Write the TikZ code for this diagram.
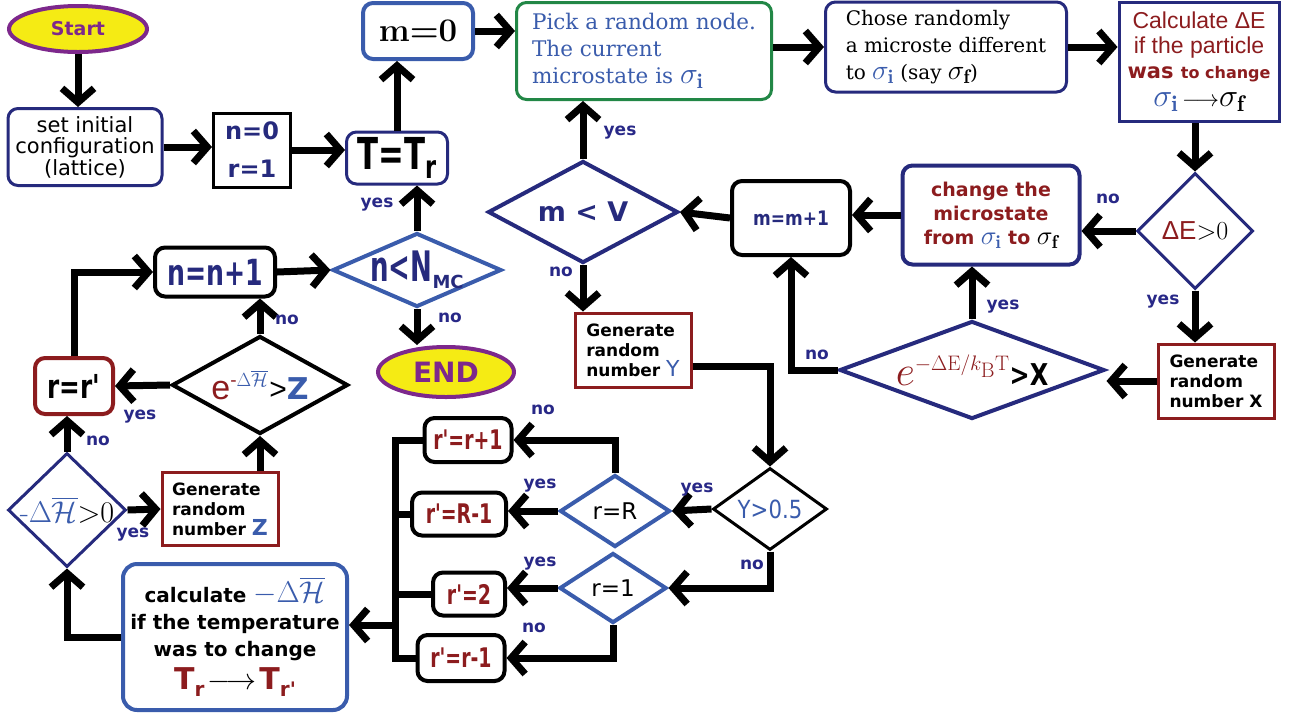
\RequirePackage{fix-cm}
\documentclass[tikz,border=0pt]{standalone}
\usepackage{fontspec}
\usepackage{amsmath}
\usepackage{xcolor}
\usepackage{graphicx}
\usetikzlibrary{arrows.meta}
\usetikzlibrary{shapes.geometric}

\newfontfamily\dejavu{DejaVu Sans}
\newfontfamily\djserif{DejaVu Serif}
\newfontfamily\libsans{Liberation Sans}

\definecolor{navy}{RGB}{38,42,125}
\definecolor{midblue}{RGB}{58,92,172}
\definecolor{leafgreen}{RGB}{34,135,70}
\definecolor{darkred}{RGB}{140,28,30}
\definecolor{startpurple}{RGB}{125,40,140}
\definecolor{startyellow}{RGB}{245,235,20}
\definecolor{labelblue}{RGB}{40,40,135}

\newcommand{\fsz}[2]{\fontsize{#1}{#2}\selectfont}
\newcommand{\zw}[1]{\makebox[0pt]{#1}}
\newcommand{\sig}[1]{\scalebox{1.4}{$\sigma_{\mathbf{#1}}$}}

\tikzset{
    thickarrow/.style={-{Straight Barb[length=14pt,width=32pt]}, line width=7pt},
    procbox/.style={draw, line width=3pt, rounded corners=10pt, inner sep=0pt},
    sqbox/.style={draw, line width=3pt, inner sep=0pt},
    decision/.style={diamond, draw, line width=3.5pt, inner sep=0pt},
    terminal/.style={ellipse, draw=startpurple, fill=startyellow, line width=4pt, inner sep=0pt, text=startpurple},
    lbl/.style={text=labelblue, font=\dejavu\bfseries\fsz{17}{17}, inner sep=1pt}
}

\begin{document}
\begin{tikzpicture}[x=1pt,y=-1pt]
        \useasboundingbox (0,0) rectangle (1300,713);

        \node[terminal, minimum width=138, minimum height=46] (start) at (78,29) {\dejavu\bfseries\fsz{19}{19}Start};
        \node[procbox, draw=navy, minimum width=154, minimum height=77, align=center, font=\dejavu\fsz{21}{21.5}] (init) at (85,147) {set initial\\configuration\\(lattice)};
        \node[sqbox, draw=black, minimum width=77, minimum height=74, align=center, text=navy, font=\dejavu\bfseries\fsz{24}{38}] (nr) at (252,150) {n=0\\r=1};
        \node[procbox, draw=navy, minimum width=101, minimum height=52, font=\dejavu\bfseries\fsz{44}{44}] (T) at (397,158) {\scalebox{0.7}[1]{T=T\raisebox{-9pt}{\fsz{32}{32}r}}};
        \node[procbox, draw=midblue, line width=4pt, minimum width=110, minimum height=56, font=\bfseries\fsz{33}{33}] (m0) at (418,31) {m=0};
        \node[procbox, draw=leafgreen, minimum width=255, minimum height=97, align=left, text=midblue, font=\djserif\fsz{21.5}{27}] (pick) at (644,51) {Pick a random node.\\The current\\microstate is \sig{i}};
        \node[procbox, draw=navy, minimum width=241, minimum height=90, align=left, font=\djserif\fsz{20}{27}] (chose) at (946,47) {Chose randomly\\a microste different\\to {\color{midblue}\sig{i}} (say \sig{f})};
        \node[sqbox, draw=navy, minimum width=160, minimum height=119, align=center, text=darkred, font=\libsans\fsz{23}{25}] (calc) at (1199,62) {Calculate ΔE\\if the particle\\{\dejavu\bfseries\fsz{21}{25}was \fsz{16}{25}to change}\\[3pt]{\color{midblue}\sig{i}}\,{\color{black}$\longrightarrow$\sig{f}}};

        \node[decision, draw=navy, line width=3pt, minimum width=116, minimum height=116] (dE) at (1195,231) {\zw{\fsz{26}{26}{\color{darkred}\libsans ΔE}$>$0}};
        \node[procbox, draw=navy, line width=4pt, minimum width=177, minimum height=99, align=center, text=darkred, font=\dejavu\bfseries\fsz{19}{24}] (change) at (991,215) {change the\\microstate\\from {\color{midblue}\sig{i}} to {\color{black}\sig{f}}};
        \node[procbox, draw=black, line width=4pt, minimum width=118, minimum height=74, text=navy, font=\dejavu\bfseries\fsz{20}{20}] (mm) at (791,218) {\scalebox{0.85}[1]{m=m+1}};
        \node[decision, draw=navy, line width=4pt, minimum width=190, minimum height=102, text=navy, font=\dejavu\bfseries\fsz{27}{27}] (mV) at (583,212) {\zw{m < V}};
        \node[sqbox, draw=darkred, minimum width=116, minimum height=74, align=left, font=\dejavu\bfseries\fsz{17}{20}] (genY) at (633,350) {Generate\\random\\number {\color{midblue}\mdseries\fsz{22}{20}Y}};
        \node[decision, draw=navy, line width=4pt, minimum width=265, minimum height=98] (expX) at (972,370) {\zw{{\color{darkred}\fsz{42}{42}$e^{\scriptscriptstyle -\Delta\mathrm{E}/k_{\mathrm{B}}\mathrm{T}}$}{\dejavu\bfseries\fsz{30}{30}\scalebox{0.8}[1]{>X}}}};
        \node[sqbox, draw=darkred, minimum width=116, minimum height=74, align=left, font=\dejavu\bfseries\fsz{17}{20}] (genX) at (1216,381) {Generate\\random\\number X};

        \node[procbox, draw=black, line width=4pt, minimum width=120, minimum height=49, text=navy, font=\dejavu\bfseries\fsz{36}{36}] (nn) at (215,272) {\scalebox{0.7}[1]{n=n+1}};
        \node[decision, draw=midblue, line width=4pt, minimum width=169, minimum height=74, text=navy, font=\dejavu\bfseries] (nmc) at (417,270) {\zw{\scalebox{0.62}[1]{\fsz{42}{42}n<N}\raisebox{-7pt}{\fsz{18}{18}MC}}};
        \node[terminal, minimum width=136, minimum height=50] (end) at (446,372) {\dejavu\bfseries\fsz{28}{28}END};
        \node[procbox, draw=darkred, line width=4pt, minimum width=78, minimum height=56, font=\dejavu\bfseries\fsz{33}{33}] (rr) at (74,386) {\scalebox{0.75}[1]{r=r\textquotesingle}};
        \node[decision, draw=black, line width=4pt, minimum width=176, minimum height=98] (expZ) at (260,385) {\zw{{\color{darkred}\libsans\fsz{34}{34}e\raisebox{13pt}{\fsz{19}{19}-{\color{midblue}$\Delta\overline{\mathcal{H}}$}}}\,{\libsans\fsz{30}{30}>}{\color{midblue}\dejavu\bfseries\fsz{30}{30}Z}}};
        \node[decision, draw=navy, line width=3pt, minimum width=118, minimum height=114] (dH) at (67,510) {\zw{\fsz{30}{30}{\color{midblue}-$\Delta\overline{\mathcal{H}}$}$>$0}};
        \node[sqbox, draw=darkred, minimum width=116, minimum height=73, align=left, font=\dejavu\bfseries\fsz{17}{20}] (genZ) at (220,509) {Generate\\random\\number {\color{midblue}\fsz{22}{20}Z}};
        \node[procbox, draw=midblue, line width=4pt, rounded corners=14pt, minimum width=224, minimum height=146, align=center, font=\dejavu\bfseries\fsz{20}{27}] (calcH) at (235,637) {calculate {\color{midblue}\fsz{30}{27}$-\Delta\overline{\mathcal{H}}$}\\if the temperature\\was to change\\[6pt]{\color{darkred}\fsz{30}{30}T\raisebox{-7pt}{\fsz{20}{20}r}}\,{\fsz{30}{30}$\longrightarrow$}\,{\color{darkred}\fsz{30}{30}T\raisebox{-7pt}{\fsz{20}{20}r\textquotesingle}}};

        \node[procbox, draw=black, line width=4pt, minimum width=87, minimum height=44, text=darkred, font=\dejavu\bfseries\fsz{27}{27}] (rpr) at (468,440) {\scalebox{0.7}[1]{r\textquotesingle=r+1}};
        \node[procbox, draw=black, line width=4pt, minimum width=94, minimum height=43, text=darkred, font=\dejavu\bfseries\fsz{27}{27}] (rRm) at (459,514) {\scalebox{0.7}[1]{r\textquotesingle=R-1}};
        \node[procbox, draw=black, line width=4pt, minimum width=72, minimum height=43, text=darkred, font=\dejavu\bfseries\fsz{27}{27}] (r2) at (469,594) {\scalebox{0.7}[1]{r\textquotesingle=2}};
        \node[procbox, draw=black, line width=4pt, minimum width=87, minimum height=46, text=darkred, font=\dejavu\bfseries\fsz{27}{27}] (rmr) at (461,658) {\scalebox{0.7}[1]{r\textquotesingle=r-1}};
        \node[decision, draw=midblue, line width=4pt, minimum width=110, minimum height=72, font=\dejavu\fsz{23}{23}] (rR) at (615,511) {\zw{r=R}};
        \node[decision, draw=midblue, line width=4pt, minimum width=107, minimum height=70, font=\dejavu\fsz{23}{23}] (r1) at (613,588) {\zw{r=1}};
        \node[decision, draw=black, line width=3pt, minimum width=114, minimum height=82, text=midblue, font=\dejavu\fsz{25}{25}] (Y05) at (770,509) {\zw{\scalebox{0.85}[1]{Y>0.5}}};

        \draw[thickarrow] (start.south) -- (start.south |- init.north);
        \draw[thickarrow] (init.east) -- (init.east -| nr.west);
        \draw[thickarrow] (nr.east) -- (nr.east -| T.west);
        \draw[thickarrow] (T.north) -- (T.north |- m0.south);
        \draw[thickarrow] (m0.east) -- (m0.east -| pick.west);
        \draw[thickarrow] (chose.west -| pick.east) -- (chose.west);
        \draw[thickarrow] (chose.east) -- (chose.east -| calc.west);
        \draw[thickarrow] (dE.north |- calc.south) -- (dE.north);
        \draw[thickarrow] (dE.west) -- (dE.west -| change.east) node[lbl] at (1108,199) {no};
        \draw[thickarrow] (dE.south) -- (dE.south |- genX.north) node[lbl] at (1163,302) {yes};
        \draw[thickarrow] (genX.west) -- (genX.west -| expX.east);
        \draw[thickarrow] (expX.north) -- (expX.north |- change.south) node[lbl] at (1003,307) {yes};
        \draw[thickarrow] (expX.west) -| (mm.south) node[lbl] at (817,355) {no};
        \draw[thickarrow] (change.west) -- (change.west -| mm.east);
        \draw[thickarrow] (mm.west) -- (mV.east);
        \draw[thickarrow] (mV.north) -- (mV.north |- pick.south) node[lbl] at (620,133) {yes};
        \draw[thickarrow] (mV.south) -- (mV.south |- genY.north) node[lbl] at (561,272) {no};
        \draw[thickarrow] ([yshift=-16pt]genY.east) -| (Y05.north);
        \draw[thickarrow] (Y05.west) -- (rR.east) node[lbl] at (697,490) {yes};
        \draw[thickarrow] (Y05.south) |- (r1.east) node[lbl] at (752,565) {no};
        \draw[thickarrow] (rR.north) |- (rpr.east) node[lbl] at (543,410) {no};
        \draw[thickarrow] (rR.west) -- (rR.west -| rRm.east) node[lbl] at (540,486) {yes};
        \draw[thickarrow] (r1.west) -- (r1.west -| r2.east) node[lbl] at (540,564) {yes};
        \draw[thickarrow] (r1.south) |- (rmr.east) node[lbl] at (534,628) {no};

        \coordinate (bus) at (395,625);
        \draw[line width=7pt] (rpr.west) -| (bus);
        \draw[line width=7pt] (rmr.west) -| (bus);
        \draw[line width=7pt] (rRm.west) -- (rRm.west -| bus);
        \draw[line width=7pt] (r2.west) -- (r2.west -| bus);
        \draw[thickarrow] (bus) -- (bus -| calcH.east);

        \draw[thickarrow] (calcH.west) -| (dH.south);
        \draw[thickarrow] (dH.east) -- (genZ.west) node[lbl] at (133,535) {yes};
        \draw[thickarrow] (dH.north) -- (dH.north |- rr.south) node[lbl] at (98,441) {no};
        \draw[thickarrow] (expZ.south |- genZ.north) -- (expZ.south);
        \draw[thickarrow] (expZ.west) -- (rr.east) node[lbl] at (140,417) {yes};
        \draw[thickarrow] (expZ.north) -- (expZ.north |- nn.south) node[lbl] at (287,320) {no};
        \draw[thickarrow] (rr.north) |- (nn.west);
        \draw[thickarrow] (nn.east) -- (nmc.west);
        \draw[thickarrow] (nmc.north) -- (nmc.north |- T.south) node[lbl] at (377,205) {yes};
        \draw[thickarrow] (nmc.south) -- (nmc.south |- end.north) node[lbl] at (450,318) {no};

\end{tikzpicture}
\end{document}
